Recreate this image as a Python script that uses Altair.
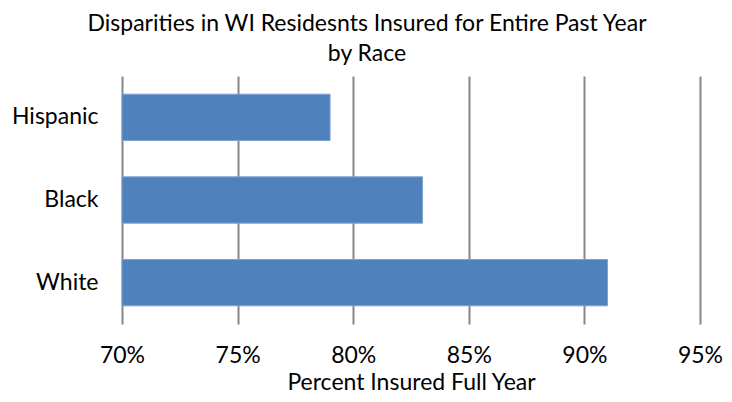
import altair as alt
import pandas as pd

races = ["Hispanic", "Black", "White"]
pct_insured = [0.79, 0.83, 0.91]
x_ticks = [0.70, 0.75, 0.80, 0.85, 0.90, 0.95]

df = pd.DataFrame({"race": races, "pct": pct_insured})

FONT = "Lato"
FS = 23

chart = alt.Chart(df).mark_bar(color="#4F81BD", stroke="#7EA2D0", strokeWidth=1).encode(
    x=alt.X("pct:Q",
            scale=alt.Scale(domain=[0.70, 0.95], clamp=True, zero=False, nice=False),
            axis=alt.Axis(values=x_ticks, format=".0%", title="Percent Insured Full Year",
                          grid=True, gridColor="#868686", gridWidth=2, gridOpacity=1,
                          ticks=False, domain=False, labelPadding=20, labelFlush=False,
                          labelOverlap=False,
                          labelFontSize=FS, labelFont=FONT, labelColor="#000000",
                          titleFontSize=FS, titleFont=FONT, titleFontWeight="normal",
                          titleColor="#000000", titlePadding=4)),
    y=alt.Y("race:N", sort=races,
            scale=alt.Scale(paddingInner=0.44, paddingOuter=0.22),
            axis=alt.Axis(title=None, ticks=False, domain=False, grid=False,
                          labelFontSize=FS, labelFont=FONT, labelColor="#000000",
                          labelPadding=24)),
).properties(
    width=578,
    height=248,
    title=alt.TitleParams(
        text=["Disparities in WI Residesnts Insured for Entire Past Year", "by Race"],
        fontSize=FS, font=FONT, fontWeight="normal", color="#000000",
        anchor="middle", frame="bounds", lineHeight=30, offset=10),
    autosize=alt.AutoSizeParams(type="none"),
    padding={"left": 114, "top": 68, "right": 24, "bottom": 70},
).configure_view(stroke=None)

chart.save("out.html", embed_options={"renderer": "svg", "actions": False})
